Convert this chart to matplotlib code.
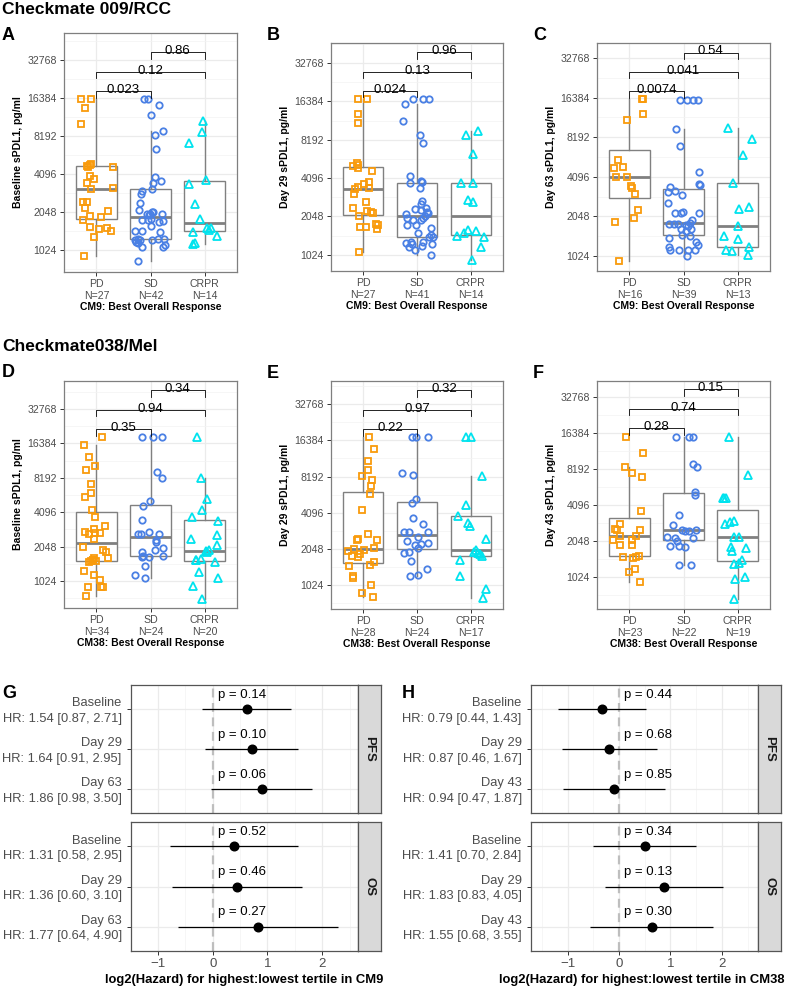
import numpy as np
import matplotlib.pyplot as plt
from matplotlib import cbook
from matplotlib.ticker import FixedLocator, NullFormatter

plt.rcParams['font.family'] = ['Liberation Sans', 'DejaVu Sans']

W, H = 791, 988

# sPDL1 values (pg/ml) per response group
# *_dx = horizontal jitter of each point (category units)
groups = ['PD', 'SD', 'CRPR']

# A: CM9 baseline
a_pd = [16000, 16000, 13570, 10130, 4770, 4820, 4880, 4680, 4620, 3970, 3710, 3490, 3110, 3150,
        2440, 2440, 2200, 2070, 1920, 1860, 1760, 1560, 1490, 1520, 1450, 1290, 916]
a_pd_dx = [-0.29, -0.10, -0.21, -0.29, -0.17, -0.12, -0.10, -0.15, 0.30, -0.12, -0.04, -0.17, -0.10, 0.30,
           -0.24, -0.17, -0.21, 0.21, -0.12, 0.09, -0.24, -0.11, 0.04, 0.20, 0.27, -0.05, -0.23]
a_sd = [16000, 16000, 14320, 12000, 8300, 9020, 6470, 3850, 3620, 3490, 3130, 3020, 2840, 2400, 2120,
        2030, 1990, 1960, 1940, 2030, 1990, 1760, 1760, 1790, 1720, 1750, 1590, 1460, 1460, 1430,
        1235, 1190, 1160, 1230, 1260, 1235, 1255, 1260, 1090, 1115, 1075, 840]
a_sd_dx = [-0.12, -0.04, 0.16, 0.00, 0.09, 0.23, 0.11, 0.09, 0.20, 0.05, 0.02, -0.15, -0.18, -0.19, -0.21,
           0.02, -0.01, -0.06, -0.03, 0.04, 0.22, -0.16, -0.05, 0.00, 0.16, 0.24, 0.00, -0.29, -0.15, 0.18,
           -0.29, -0.27, -0.23, -0.20, -0.24, 0.02, 0.13, 0.25, 0.23, 0.26, -0.16, -0.24]
a_cr = [10830, 8860, 7210, 3640, 3430, 2380, 1800, 1530, 1480, 1540, 1420, 1310, 1135, 1160]
a_cr_dx = [-0.02, -0.04, -0.29, 0.02, -0.29, -0.17, -0.09, 0.05, 0.09, 0.11, -0.22, 0.23, -0.22, -0.18]

# B: CM9 day 29
b_pd = [17090, 17090, 12950, 11130, 5120, 5190, 5380, 4880, 4630, 3810, 3700, 3460, 3370, 3400,
        3050, 2640, 2380, 2270, 2210, 2170, 2060, 1790, 1770, 1630, 1690, 1700, 1074]
b_pd_dx = [-0.10, 0.07, -0.09, -0.09, -0.20, -0.09, -0.11, -0.10, 0.17, 0.11, 0.02, -0.10, -0.15, 0.10,
           -0.18, 0.05, -0.19, 0.07, 0.14, 0.18, -0.08, 0.24, 0.27, 0.25, -0.06, 0.05, -0.08]
b_sd = [17090, 17090, 17090, 15700, 11550, 8900, 7670, 4230, 3720, 3880, 3840, 3400, 2700, 2575, 2350,
        2370, 2170, 2230, 2310, 2130, 1990, 1930, 1980, 1920, 2050, 1770, 1760, 1670, 1520, 1460,
        1410, 1410, 1270, 1300, 1240, 1190, 1300, 1200, 1240, 1120, 1024]
b_sd_dx = [-0.07, 0.11, 0.23, -0.22, -0.26, 0.05, 0.11, -0.13, -0.13, 0.07, 0.10, 0.05, 0.10, 0.08, -0.04,
           0.16, 0.21, 0.18, 0.08, -0.20, -0.18, -0.07, 0.12, 0.07, 0.15, -0.18, -0.02, 0.26, 0.02, 0.26,
           0.22, 0.29, -0.20, -0.12, -0.10, -0.14, 0.12, 0.09, 0.27, -0.04, 0.26]
b_cr = [9510, 8850, 6290, 3760, 3760, 2760, 2680, 1610, 1570, 1520, 1450, 1410, 1190, 935]
b_cr_dx = [0.13, -0.09, 0.05, -0.18, 0.04, -0.06, 0.04, -0.05, 0.10, -0.12, -0.25, 0.24, 0.19, 0.02]

# C: CM9 day 63
c_pd = [15900, 15900, 12400, 11040, 5490, 4760, 4870, 4090, 4090, 3490, 3370, 3040, 2300, 1980, 1860, 945]
c_pd_dx = [0.24, 0.26, 0.25, -0.04, -0.22, -0.29, -0.12, -0.25, -0.04, 0.03, 0.05, 0.10, 0.15, 0.09, -0.26, -0.20]
c_sd = [15850, 15850, 15850, 15850, 9430, 7020, 4490, 3630, 3570, 3450, 3220, 3140, 2990, 2570,
        2190, 2200, 2190, 2190, 1800, 1800, 1800, 1810, 1920, 1730, 1640, 1580, 1640, 1490, 1460,
        1400, 1300, 1230, 1200, 1140, 1140, 1130, 1130, 1020, 1750]
c_sd_dx = [-0.07, 0.06, 0.18, 0.27, -0.13, -0.07, 0.28, 0.28, 0.30, -0.25, -0.15, -0.29, -0.02, -0.28,
           -0.16, -0.01, -0.04, 0.28, -0.27, -0.18, -0.10, 0.12, 0.15, 0.09, -0.04, 0.04, 0.13, -0.02, 0.12,
           -0.27, 0.24, 0.26, -0.27, -0.25, -0.08, 0.09, 0.21, 0.07, 0.05]
c_cr = [9710, 7940, 6050, 3700, 2430, 2330, 1720, 1460, 1380, 1200, 1130, 1110, 1040]
c_cr_dx = [-0.17, 0.26, 0.10, -0.09, 0.21, 0.02, 0.01, -0.25, 0.00, 0.21, -0.22, -0.10, 0.20]

# D: CM38 baseline
d_pd = [18500, 15740, 12430, 10430, 9620, 7230, 5990, 5530, 4280, 3690, 2760, 2620, 2900, 2710, 2710,
        3090, 2370, 2040, 1910, 1850, 1640, 1510, 1580, 1620, 1540, 1540, 1560, 1260, 1150, 1050,
        915, 915, 915, 755]
d_pd_dx = [0.11, -0.23, -0.13, -0.03, -0.20, -0.10, -0.10, -0.21, -0.08, -0.02, -0.21, -0.13, -0.05, -0.02, 0.07,
           0.15, -0.04, -0.24, 0.13, 0.18, 0.22, -0.13, -0.07, -0.04, -0.10, -0.01, -0.06, -0.23, -0.05, 0.06,
           0.09, 0.12, -0.16, -0.19]
d_sd = [18500, 18500, 18500, 9120, 8220, 5110, 4660, 3490, 2630, 2630, 2750, 2660, 2330, 2250, 1830,
        1660, 1690, 1680, 1900, 1990, 1690, 1390, 1170, 1090]
d_sd_dx = [-0.15, 0.04, 0.21, 0.12, 0.21, -0.01, -0.14, -0.15, -0.23, -0.18, -0.03, 0.15, 0.10, 0.11, -0.16,
           -0.15, -0.13, -0.02, 0.09, 0.23, 0.23, -0.10, -0.29, -0.10]
d_cr = [18500, 8190, 5310, 4260, 3710, 3440, 2390, 2590, 2110, 1850, 1900, 1580, 1590, 1510, 1220,
        1080, 930, 710, 1870, 1560]
d_cr_dx = [-0.14, -0.06, 0.04, -0.04, -0.23, 0.25, -0.26, 0.23, 0.23, 0.05, 0.08, -0.16, -0.06, 0.20, -0.11,
           0.25, -0.21, -0.05, 0.02, -0.15]

# E: CM38 day 29
e_pd = [17420, 13930, 11130, 9200, 8200, 7600, 6770, 5880, 4330, 2700, 2440, 2440, 2480, 1960, 2030,
        1870, 1990, 1800, 1750, 2090, 1600, 1500, 1470, 1220, 1170, 1030, 880, 810]
e_pd_dx = [0.10, 0.20, 0.08, 0.09, -0.03, 0.16, 0.14, 0.12, -0.03, 0.09, 0.26, -0.12, -0.10, -0.29, -0.18,
           -0.06, 0.02, -0.21, -0.10, 0.20, 0.20, 0.13, -0.26, -0.20, -0.19, 0.14, -0.03, 0.18]
e_sd = [17420, 17420, 17420, 8750, 8430, 5310, 4960, 3670, 3320, 2830, 2830, 2820, 2570, 2380, 2220,
        2240, 2300, 2070, 1910, 1940, 1640, 1390, 1220, 1240]
e_sd_dx = [-0.10, -0.02, 0.21, -0.27, -0.08, -0.02, -0.09, -0.07, 0.11, -0.25, -0.15, 0.20, 0.01, -0.19, -0.03,
           0.08, 0.20, 0.02, -0.24, -0.15, -0.12, 0.18, -0.13, 0.01]
e_cr = [17420, 17420, 8320, 4770, 3820, 3380, 3150, 2490, 2020, 1930, 1890, 1800, 1870, 1650, 1220, 950, 795]
e_cr_dx = [-0.08, 0.00, 0.20, -0.09, -0.24, -0.06, -0.02, 0.28, 0.09, 0.06, 0.13, 0.21, 0.18, -0.20, -0.20, 0.28, 0.22]

# F: CM38 day 43
f_pd = [15050, 11200, 8480, 7550, 7040, 3620, 2810, 2600, 2550, 2540, 2260, 2260, 2070, 2070, 1880,
        1880, 1510, 1470, 1510, 1530, 1190, 1130, 935]
f_pd_dx = [-0.07, 0.25, -0.09, 0.04, 0.24, 0.22, -0.18, -0.26, -0.23, 0.20, 0.13, -0.17, -0.31, 0.05, -0.17,
           0.04, -0.11, 0.06, 0.12, 0.17, 0.10, -0.01, 0.20]
f_sd = [15050, 15050, 15050, 9020, 8480, 5250, 4930, 3360, 2790, 2550, 2500, 2480, 2540, 2220, 2150,
        2040, 2150, 1850, 1850, 1830, 1300, 1300]
f_sd_dx = [-0.13, 0.10, 0.17, 0.17, 0.25, 0.21, 0.21, -0.09, -0.20, -0.02, 0.02, 0.11, 0.24, -0.31, -0.16,
           -0.12, 0.17, -0.25, -0.08, 0.02, -0.09, 0.14]
f_cr = [15260, 7290, 4660, 4660, 4660, 2840, 2970, 3010, 2200, 2200, 1830, 1690, 1800, 1315, 1350,
        1420, 985, 1030, 668]
f_cr_dx = [-0.15, 0.19, -0.27, -0.22, -0.25, -0.24, -0.14, -0.06, -0.06, 0.02, -0.12, -0.10, 0.15, -0.06, 0.02,
           0.09, -0.04, 0.14, -0.06]

# pairwise p-values (PD-SD, PD-CRPR, SD-CRPR)
p_a = ['0.023', '0.12', '0.86']
p_b = ['0.024', '0.13', '0.96']
p_c = ['0.0074', '0.041', '0.54']
p_d = ['0.35', '0.94', '0.34']
p_e = ['0.22', '0.97', '0.32']
p_f = ['0.28', '0.74', '0.15']

# hazard ratios, tertile high vs low
cm9_rows = ['Baseline', 'Day 29', 'Day 63']
cm9_pfs_hr = [1.54, 1.64, 1.86]
cm9_pfs_lo = [0.87, 0.91, 0.98]
cm9_pfs_hi = [2.71, 2.95, 3.50]
cm9_pfs_p = [0.14, 0.10, 0.06]
cm9_os_hr = [1.31, 1.36, 1.77]
cm9_os_lo = [0.58, 0.60, 0.64]
cm9_os_hi = [2.95, 3.10, 4.90]
cm9_os_p = [0.52, 0.46, 0.27]

cm38_rows = ['Baseline', 'Day 29', 'Day 43']
cm38_pfs_hr = [0.79, 0.87, 0.94]
cm38_pfs_lo = [0.44, 0.46, 0.47]
cm38_pfs_hi = [1.43, 1.67, 1.87]
cm38_pfs_p = [0.44, 0.68, 0.85]
cm38_os_hr = [1.41, 1.83, 1.55]
cm38_os_lo = [0.70, 0.83, 0.68]
cm38_os_hi = [2.84, 4.05, 3.55]
cm38_os_p = [0.34, 0.13, 0.30]

colors = ['#F99B0C', '#4A80E4', '#00E3EE']
markers = ['s', 'o', '^']
BOXC = '#808080'

fig = plt.figure(figsize=(W / 100, H / 100), dpi=100)


def add_ax(x0, y0, x1, y1):
    return fig.add_axes([x0 / W, 1 - y1 / H, (x1 - x0) / W, (y1 - y0) / H])


def ptext(x, y, s, **kw):
    fig.text(x / W, 1 - y / H, s, **kw)


def box_panel(rect, vals, dxs, pvals, ylab, xlab, ylim):
    ax = add_ax(*rect)
    logs = [np.log2(v) for v in vals]
    stats = cbook.boxplot_stats(logs, whis=1.5)
    for s in stats:
        for k in ['med', 'q1', 'q3', 'whislo', 'whishi']:
            s[k] = 2.0 ** s[k]
    ax.set_yscale('log', base=2)
    ax.bxp(stats, positions=[1, 2, 3], widths=0.75, showfliers=False, showcaps=False,
           patch_artist=True,
           boxprops=dict(facecolor='white', edgecolor=BOXC, lw=1.0),
           whiskerprops=dict(color=BOXC, lw=1.0),
           medianprops=dict(color=BOXC, lw=2.0), zorder=2)
    for i, (v, dx) in enumerate(zip(vals, dxs)):
        ms = 5.3 if markers[i] == '^' else 4.6
        ax.plot(i + 1 + np.array(dx), v, ls='none', marker=markers[i], ms=ms,
                mfc='none', mec=colors[i], mew=1.3, zorder=3)

    # significance brackets
    lo = min(l.min() for l in logs)
    hi = max(l.max() for l in logs)
    rng = hi - lo
    for j, ((a, b), p) in enumerate(zip([(1, 2), (1, 3), (2, 3)], pvals)):
        yb = hi + rng * (0.05 + 0.12 * j)
        tip = 0.04 * rng
        ax.plot([a, a, b, b], 2.0 ** np.array([yb - tip, yb, yb, yb - tip]),
                color='black', lw=0.6, zorder=4)
        ax.annotate(p, (0.5 * (a + b), 2.0 ** yb), xytext=(0, 0.8), textcoords='offset points',
                    ha='center', va='center', fontsize=9.5)

    ax.set_xlim(0.4, 3.6)
    ax.set_ylim(2.0 ** ylim[0], 2.0 ** ylim[1])
    ticks = 2.0 ** np.arange(10, 16)
    ax.set_yticks(ticks, [str(int(t)) for t in ticks])
    ax.yaxis.set_minor_locator(FixedLocator(2.0 ** (np.arange(9, 16) + 0.5)))
    ax.yaxis.set_minor_formatter(NullFormatter())
    ax.set_xticks([1, 2, 3], [f'{g}\nN={len(v)}' for g, v in zip(groups, vals)])
    ax.grid(True, which='major', color='#EBEBEB', lw=0.9)
    ax.grid(True, which='minor', axis='y', color='#F3F3F3', lw=0.5)
    ax.set_axisbelow(True)
    ax.tick_params(which='major', length=3, width=0.7, color='#333333', labelsize=7.6,
                   labelcolor='#4D4D4D', pad=2)
    ax.tick_params(which='minor', length=0)
    for s in ax.spines.values():
        s.set_color('#7F7F7F')
        s.set_linewidth(0.9)
    ax.set_ylabel(ylab, fontsize=7.5, fontweight='bold')
    ax.yaxis.set_label_coords(-0.237, 0.5)
    ptext(0.5 * (rect[0] + rect[2]), rect[3] + 35, xlab, fontsize=7.5, fontweight='bold',
          ha='center', va='center')
    return ax


def forest_facet(rect, srect, rows, hr, lo, hi, pv, xlim, strip, bottom):
    ax = add_ax(*rect)
    y = np.arange(1, len(hr) + 1)
    ax.axvline(0, color='#BEBEBE', lw=1.6, dashes=(4, 2.5), zorder=1.5)
    ax.hlines(y, np.log2(lo), np.log2(hi), color='black', lw=0.9, zorder=2)
    ax.plot(np.log2(hr), y, 'o', color='black', ms=6.2, zorder=3)
    for yi, p in zip(y, pv):
        ax.text(0.1, yi - 0.36, f'p = {p:.2f}', ha='left', va='center', fontsize=9.5)
    # two-line row labels (timepoint / HR with CI)
    ax.set_yticks(y, [''] * len(y))
    ytr = ax.get_yaxis_transform()
    for yi, r, h, l, u in zip(y, rows, hr, lo, hi):
        ax.annotate(r, (0, yi), xycoords=ytr, xytext=(-6.5, 4.2), textcoords='offset points',
                    ha='right', va='center', fontsize=9.3, color='#4D4D4D')
        ax.annotate(f'HR: {h:.2f} [{l:.2f}, {u:.2f}]', (0, yi), xycoords=ytr, xytext=(-6.5, -6.8),
                    textcoords='offset points', ha='right', va='center', fontsize=9.3, color='#4D4D4D')
    ax.set_ylim(3.6, 0.4)
    ax.set_xlim(*xlim)
    ax.set_xticks([-1, 0, 1, 2])
    ax.set_xticks([-1.5, -0.5, 0.5, 1.5, 2.5], minor=True)
    ax.grid(True, which='major', color='#EBEBEB', lw=0.9)
    ax.grid(True, which='minor', axis='x', color='#F3F3F3', lw=0.5)
    ax.set_axisbelow(True)
    ax.tick_params(which='major', length=3, width=0.7, color='#333333', labelsize=9.5,
                   labelcolor='#4D4D4D', pad=2)
    ax.tick_params(which='minor', length=0)
    if not bottom:
        ax.tick_params(axis='x', length=0, labelbottom=False)
    for s in ax.spines.values():
        s.set_color('#555555')
        s.set_linewidth(0.9)

    sx = add_ax(*srect)
    sx.set_facecolor('#D9D9D9')
    sx.set_xticks([])
    sx.set_yticks([])
    for s in sx.spines.values():
        s.set_color('#555555')
        s.set_linewidth(0.9)
    sx.text(0.5, 0.5, strip, rotation=-90, ha='center', va='center', fontsize=9.5,
            fontweight='bold', color='#1A1A1A', transform=sx.transAxes)
    return ax


# ---- top row: CM9 ----
ptext(2, 14, 'Checkmate 009/RCC', fontsize=12.5, fontweight='bold', va='baseline')
cm9_x = 'CM9: Best Overall Response'
box_panel((64, 33, 237, 272), [a_pd, a_sd, a_cr], [a_pd_dx, a_sd_dx, a_cr_dx], p_a,
          'Baseline sPDL1, pg/ml', cm9_x, (9.42, 15.71))
box_panel((331, 43, 503, 271), [b_pd, b_sd, b_cr], [b_pd_dx, b_sd_dx, b_cr_dx], p_b,
          'Day 29 sPDL1, pg/ml', cm9_x, (9.58, 15.52))
box_panel((597, 43, 770, 271), [c_pd, c_sd, c_cr], [c_pd_dx, c_sd_dx, c_cr_dx], p_c,
          'Day 63 sPDL1, pg/ml', cm9_x, (9.62, 15.38))
ptext(2, 40, 'A', fontsize=13, fontweight='bold', va='baseline')
ptext(267, 40, 'B', fontsize=13, fontweight='bold', va='baseline')
ptext(533, 40.5, 'C', fontsize=13, fontweight='bold', va='baseline')

# ---- middle row: CM38 ----
ptext(2, 350.7, 'Checkmate038/Mel', fontsize=12.5, fontweight='bold', va='baseline')
cm38_x = 'CM38: Best Overall Response'
box_panel((64, 381, 237, 608), [d_pd, d_sd, d_cr], [d_pd_dx, d_sd_dx, d_cr_dx], p_d,
          'Baseline sPDL1, pg/ml', cm38_x, (9.22, 15.81))
box_panel((331, 381, 503, 609), [e_pd, e_sd, e_cr], [e_pd_dx, e_sd_dx, e_cr_dx], p_e,
          'Day 29 sPDL1, pg/ml', cm38_x, (9.34, 15.64))
box_panel((597, 381, 770, 609), [f_pd, f_sd, f_cr], [f_pd_dx, f_sd_dx, f_cr_dx], p_f,
          'Day 43 sPDL1, pg/ml', cm38_x, (9.11, 15.44))
ptext(2, 377, 'D', fontsize=13, fontweight='bold', va='baseline')
ptext(267, 378, 'E', fontsize=13, fontweight='bold', va='baseline')
ptext(533, 378, 'F', fontsize=13, fontweight='bold', va='baseline')

# ---- bottom row: forest plots ----
gx0, gx1, gs1 = 130.7, 358.3, 380.7
forest_facet((gx0, 685, gx1, 813.3), (gx1, 685, gs1, 813.3), cm9_rows,
             cm9_pfs_hr, cm9_pfs_lo, cm9_pfs_hi, cm9_pfs_p, (-1.17, 2.66), 'PFS', False)
forest_facet((gx0, 822.3, gx1, 951), (gx1, 822.3, gs1, 951), cm9_rows,
             cm9_os_hr, cm9_os_lo, cm9_os_hi, cm9_os_p, (-1.17, 2.66), 'OS', True)
ptext(0.5 * (gx0 + gx1), 980, 'log2(Hazard) for highest:lowest tertile in CM9',
      fontsize=9.4, fontweight='bold', ha='center', va='center')
ptext(2, 698, 'G', fontsize=13, fontweight='bold', va='baseline')

hx0, hx1, hs1 = 530.7, 758.3, 780.7
forest_facet((hx0, 685, hx1, 813.3), (hx1, 685, hs1, 813.3), cm38_rows,
             cm38_pfs_hr, cm38_pfs_lo, cm38_pfs_hi, cm38_pfs_p, (-1.72, 2.71), 'PFS', False)
forest_facet((hx0, 822.3, hx1, 951), (hx1, 822.3, hs1, 951), cm38_rows,
             cm38_os_hr, cm38_os_lo, cm38_os_hi, cm38_os_p, (-1.72, 2.71), 'OS', True)
ptext(642, 980, 'log2(Hazard) for highest:lowest tertile in CM38',
      fontsize=9.4, fontweight='bold', ha='center', va='center')
ptext(401.7, 698, 'H', fontsize=13, fontweight='bold', va='baseline')

fig.savefig('out.png', dpi=100)
